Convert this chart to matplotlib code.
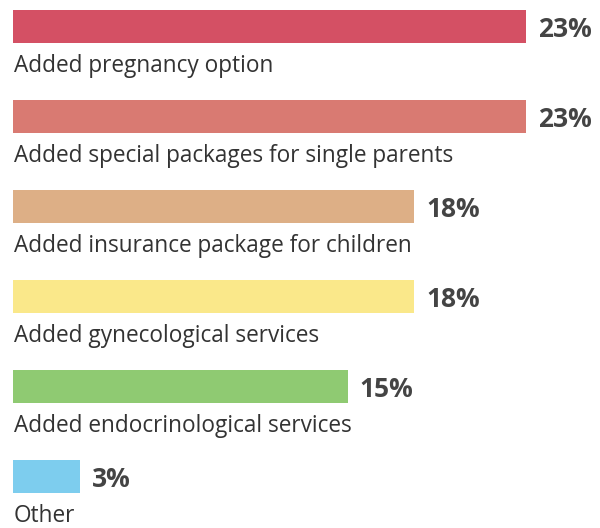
import matplotlib.pyplot as plt
import numpy as np

labels = [
    "Added pregnancy option",
    "Added special packages for single parents",
    "Added insurance package for children",
    "Added gynecological services",
    "Added endocrinological services",
    "Other",
]
values = [23, 23, 18, 18, 15, 3]
colors = ["#D45064", "#D97A72", "#DDAF86", "#FAE88A", "#8FCA72", "#7DCDEE"]

plt.rcParams['font.family'] = ['Open Sans', 'DejaVu Sans']

fig = plt.figure(figsize=(6, 5.28), dpi=100)
ax = fig.add_axes([0, 0, 1, 1])

y_pos = np.arange(len(labels))
bar_h = 0.367
ax.barh(y_pos, values, height=bar_h, color=colors, align='center')

for y, v, lab in zip(y_pos, values, labels):
    ax.text(v + 0.55, y + 0.03, f"{v}%", va='center', ha='left',
            fontsize=19, fontweight='bold', color='#444444')
    ax.text(0.05, y + bar_h / 2 + 0.125, lab, va='top', ha='left',
            fontsize=16.3, color='#333333')

ax.set_xlim(-13 / 22.3, 587 / 22.3)
ax.set_ylim(5.572, -0.294)
ax.axis('off')

fig.savefig("out.png", dpi=100)
